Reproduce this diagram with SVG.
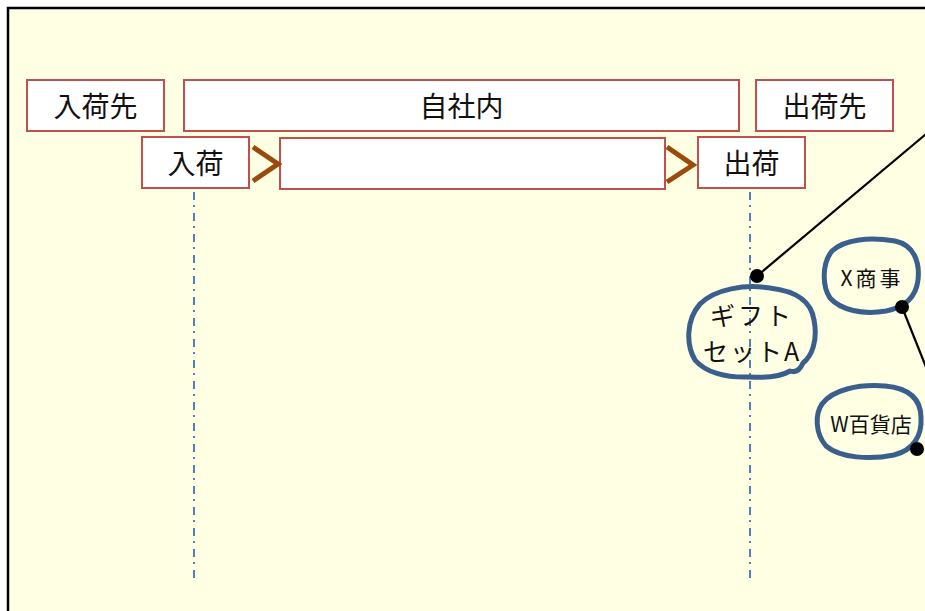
<svg xmlns="http://www.w3.org/2000/svg" width="925" height="611" viewBox="0 0 925 611">
<style>
.box{fill:#ffffff;stroke:#c0504d;stroke-width:2}
.lbl{font-family:"Noto Sans CJK JP","Noto Sans CJK SC",sans-serif;font-size:28px;fill:#111;text-anchor:middle;dominant-baseline:central}
.blob{fill:none;stroke:#3b5f8c;stroke-width:5;stroke-linejoin:round}
.btxt{font-family:"Noto Sans CJK JP","Noto Sans CJK SC",sans-serif;fill:#111;text-anchor:middle;dominant-baseline:central}
.guide{stroke:#4f81bd;stroke-width:2;stroke-dasharray:8 5 2 6;fill:none}
.chev{fill:none;stroke:#9c4a0c;stroke-width:5}
.conn{stroke:#000;stroke-width:2.2;fill:none}
</style>
<rect x="8" y="8" width="940" height="620" fill="#ffffe4" stroke="#000" stroke-width="2.5"/>
<g id="guides">
<line class="guide" x1="194" y1="192" x2="194" y2="578"/>
<line class="guide" x1="750" y1="192" x2="750" y2="578"/>
</g>
<g id="n-nyukasaki"><rect class="box" x="27" y="80" width="137" height="51"/><text class="lbl" x="95.5" y="105">入荷先</text></g>
<g id="n-jishanai"><rect class="box" x="184" y="80" width="555" height="51"/><text class="lbl" x="461.5" y="105">自社内</text></g>
<g id="n-shukkasaki"><rect class="box" x="756" y="80" width="137" height="51"/><text class="lbl" x="824.5" y="105">出荷先</text></g>
<g id="n-nyuka"><rect class="box" x="142" y="137" width="107" height="51"/><text class="lbl" x="195.5" y="162">入荷</text></g>
<g id="n-middle"><rect class="box" x="280" y="138" width="385" height="51"/></g>
<g id="n-shukka"><rect class="box" x="698" y="137" width="107" height="51"/><text class="lbl" x="751.5" y="162">出荷</text></g>
<g id="chevrons">
<polyline class="chev" points="253,147 278,164 253,181"/>
<polyline class="chev" points="667,147 693,165 667,182"/>
</g>
<g id="n-gift">
<path class="blob" d="M700,304 C715,289 745,284 770,288 C795,291 811,300 814,320 C818,340 812,356 803,363 C800,370 796,373 790,371 C780,377 765,378 750,377 C725,378 705,372 695,360 C686,345 686,320 700,304 Z"/>
<text class="btxt" x="752" y="314" font-size="25" letter-spacing="3">ギフト</text>
<text class="btxt" x="752" y="350" font-size="25" letter-spacing="2">セットA</text>
</g>
<g id="n-xshoji">
<path class="blob" d="M832,251 C845,239 870,237 895,241 C914,245 920,262 918,280 C916,297 906,307 886,311 C862,315 841,310 830,298 C822,286 822,263 832,251 Z"/>
<text class="btxt" x="872" y="277" font-size="21" letter-spacing="3">X商事</text>
</g>
<g id="n-wdept">
<path class="blob" d="M822,404 C832,390 858,384 885,386 C908,388 921,398 921,418 C922,435 914,450 894,455 C870,460 840,458 826,446 C815,433 815,414 822,404 Z"/>
<text class="btxt" x="871" y="423" font-size="21">W百貨店</text>
</g>
<g id="connectors">
<line class="conn" x1="757" y1="276" x2="926" y2="134"/>
<line class="conn" x1="902" y1="307" x2="926" y2="367"/>
<circle cx="757" cy="276" r="7" fill="#000"/>
<circle cx="902" cy="307" r="7" fill="#000"/>
<circle cx="917" cy="449" r="7" fill="#000"/>
</g>
</svg>
